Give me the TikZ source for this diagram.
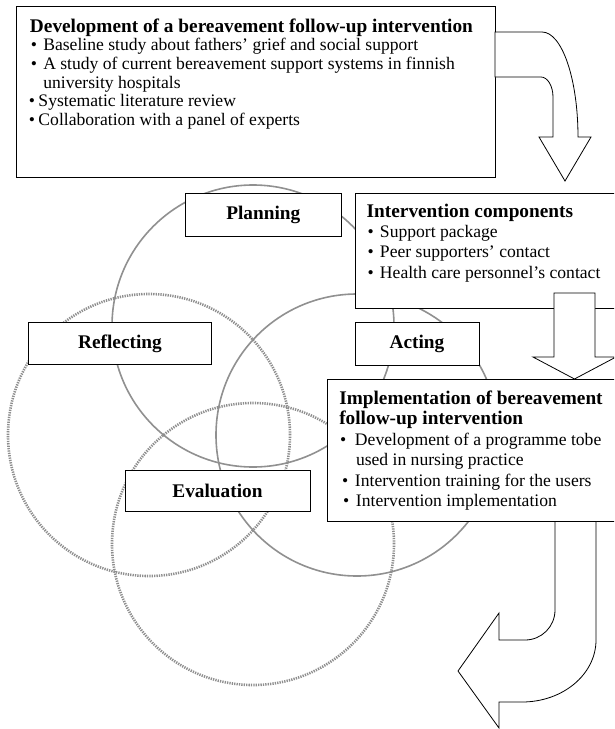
\documentclass[tikz,border=0pt]{standalone}
\usepackage{fontspec}
\setmainfont{Liberation Serif}
\definecolor{ringsolid}{HTML}{909090}
\definecolor{ringdot}{HTML}{8E8E8E}
% body text size with a given line pitch
\newcommand{\bodyfont}[1]{\fontsize{17.6}{#1}\selectfont}
% bold heading line of a phase box
\newcommand{\headline}[1]{{\fontsize{19.3}{10}\selectfont\bfseries #1}}
% bullet starting at #1 from the left margin, its text starting at #2
\newcommand{\bl}[2]{\hspace*{#1}\rlap{\textbullet}\hspace*{\dimexpr #2-#1\relax}}
\begin{document}
\begin{tikzpicture}[x=1pt,y=-1pt,
  box/.style={draw=black, line width=0.9pt, fill=white, inner sep=0pt, outer sep=0pt},
  tag/.style={box, font=\fontsize{19.3}{20}\selectfont\bfseries, align=center},
  txt/.style={inner sep=0pt, outer sep=0pt, anchor=base west},
  ring/.style={draw=ringsolid, line width=1.6pt},
  dotring/.style={draw=ringdot, line width=2.6pt, dash pattern=on 1.3pt off 1.1pt},
  bigarrow/.style={draw=black, line width=0.8pt, fill=white, line join=miter}]
\useasboundingbox (0,0) rectangle (614,729);
\clip (0,0) rectangle (614,729);

% four overlapping cycle circles
\draw[ring]    (253,326) circle[radius=141pt];
\draw[ring]    (357,435) circle[radius=141pt];
\draw[dotring] (149,435) circle[radius=141pt];
\draw[dotring] (253,544) circle[radius=141pt];

% stage labels on the circles
\node[tag, minimum width=156.7pt, minimum height=42.7pt] (planning)   at (263.3,214.7) {Planning};
\node[tag, minimum width=183.4pt, minimum height=41.6pt] (reflecting) at (120,343.5)   {Reflecting};
\node[tag, minimum width=124pt,   minimum height=43pt]   (acting)     at (417,343.5)   {Acting};
\node[tag, minimum width=185pt,   minimum height=41.7pt] (evaluation) at (217.5,490.8) {Evaluation};

% frames of the three phase boxes
\node[box, anchor=north west, minimum width=479pt, minimum height=171pt]   (devbox)  at (16,6)    {};
\node[box, anchor=north west, minimum width=275pt, minimum height=115pt]   (compbox) at (355,193) {};
\node[box, anchor=north west, minimum width=300pt, minimum height=142.5pt] (implbox) at (327,379) {};

% arrows linking the phases
\draw[bigarrow] (devbox.east |- 0,32) -- (542,32)
  .. controls (562,32) and (578,79) .. (578,137)
  -- (591,137) -- (565,181) -- (539,137) -- (553,137) -- (553,97)
  .. controls (553,86) and (547.6,77) .. (541,77)
  -- (devbox.east |- 0,77) -- cycle;
\draw[bigarrow] (554,293) -- (595,293) -- (595,357) -- (616,357)
  -- (574.5,379) -- (533,357) -- (554,357) -- cycle;
\draw[bigarrow] (555,521.5) -- (555,610)
  .. controls (555,626.6) and (541.6,640) .. (525,640)
  -- (499,640) -- (499,613) -- (458,671) -- (499,728) -- (499,702) -- (522,702)
  .. controls (563,702) and (596,674.2) .. (596,640)
  -- (596,521.5) -- cycle;

% texts of the phase boxes
\node[txt] (devtext) at (30,32.3) {\parbox[t]{470pt}{\raggedright\bodyfont{18.6}%
\headline{Development of a bereavement follow-up intervention}\\
\bl{0.9pt}{13.3pt}Baseline study about fathers' grief and social support\\
\bl{0.9pt}{13.3pt}A study of current bereavement support systems in finnish\\
\hspace*{13.3pt}university hospitals\\
\bl{-1.2pt}{8.5pt}Systematic literature review\\
\bl{-1.2pt}{8.5pt}Collaboration with a panel of experts}};

\node[txt] (comptext) at (366.7,217.3) {\parbox[t]{250pt}{\raggedright\bodyfont{20.3}%
\headline{Intervention components}\\
\bl{0.9pt}{13.3pt}Support package\\
\bl{0.9pt}{13.3pt}Peer supporters' contact\\
\bl{0.9pt}{13.3pt}Health care personnel's contact}};

\node[txt] (impltext) at (339.3,404) {\parbox[t]{280pt}{\raggedright\bodyfont{20.5}%
\headline{Implementation of bereavement}\\
\headline{follow-up intervention}\\
\bl{0.7pt}{15.7pt}Development of a programme tobe\\
\hspace*{16.7pt}used in nursing practice\\
\bl{2.7pt}{15.7pt}Intervention training for the users\\
\bl{3.7pt}{16.7pt}Intervention implementation}};
\end{tikzpicture}
\end{document}
